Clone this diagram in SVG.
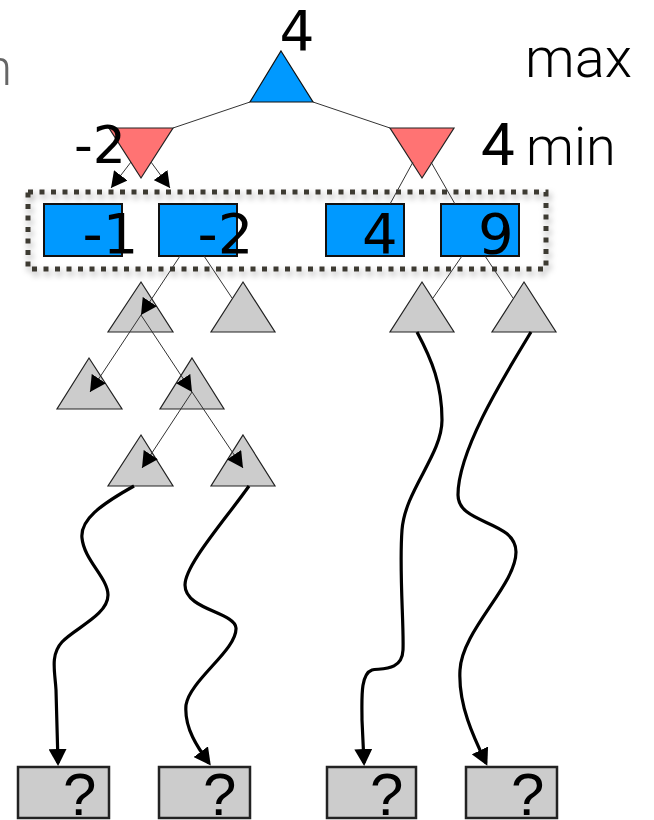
<svg xmlns="http://www.w3.org/2000/svg" width="654" height="820" viewBox="0 0 654 820">
  <style>
    .tri-max { fill: #0099FF; stroke: #111; stroke-width: 1.2; }
    .tri-min { fill: #FF7373; stroke: #222; stroke-width: 1.2; }
    .tri-sub { fill: #CCCCCC; stroke: #222; stroke-width: 1.2; }
    .leaf { fill: #0099FF; stroke: #111; stroke-width: 2; }
    .unknown { fill: #CCCCCC; stroke: #222; stroke-width: 2.5; }
    .num { font-family: "DejaVu Sans", sans-serif; fill: #000; }
    .lbl { font-family: Roboto, "Liberation Sans", Arial, sans-serif; font-weight: 300; fill: #000; }
    .qm { font-family: "Liberation Sans", Arial, sans-serif; fill: #000; }
    .edge { fill: none; stroke: #333; stroke-width: 1; }
    .path { fill: none; stroke: #000; stroke-width: 3.2; }
    .frontier { fill: none; stroke: #3d3a33; stroke-width: 5; stroke-dasharray: 5 6.5; }
  </style>
  <defs>
    <marker id="arrow" markerUnits="userSpaceOnUse" markerWidth="16" markerHeight="17" refX="16" refY="8.5" orient="auto">
      <path d="M0,0 L16,8.5 L0,17 z" fill="#000"/>
    </marker>
    <marker id="arrow-thick" markerUnits="userSpaceOnUse" markerWidth="17" markerHeight="18" refX="14" refY="9" orient="auto">
      <path d="M0,0 L17,9 L0,18 z" fill="#000"/>
    </marker>
    <filter id="shadow" x="-5%" y="-20%" width="110%" height="140%">
      <feDropShadow dx="2" dy="4" stdDeviation="3" flood-color="#000" flood-opacity="0.35"/>
    </filter>
  </defs>

  <!-- level labels -->
  <g id="labels">
    <text class="lbl" x="12" y="85" font-size="50" text-anchor="end" style="fill:#666">n</text>
    <text class="lbl" x="525" y="77" font-size="56">max</text>
    <text class="lbl" x="481" y="165" font-size="60" font-weight="400" style="font-weight:400">4</text>
    <text class="lbl" x="526" y="165" font-size="54">min</text>
  </g>

  <!-- frontier selection box -->
  <g id="frontier">
    <rect class="frontier" x="28" y="192" width="518" height="77" filter="url(#shadow)"/>
  </g>

  <!-- root (max) -->
  <g id="root">
    <polygon class="tri-max" points="281,51 313,102 250,102"/>
    <text class="num" x="297" y="50" font-size="55" text-anchor="middle">4</text>
  </g>

  <!-- min nodes -->
  <g id="min-left">
    <polygon class="tri-min" points="109,128 173,128 141,178"/>
    <text class="num" x="74" y="163" font-size="52">-2</text>
  </g>
  <g id="min-right">
    <polygon class="tri-min" points="390,128 454,128 422,178"/>
  </g>

  <!-- evaluated leaves -->
  <g id="leaf-1">
    <rect class="leaf" x="44" y="204" width="78" height="52"/>
    <text class="num" x="82.5" y="253" font-size="56">-1</text>
  </g>
  <g id="leaf-2">
    <rect class="leaf" x="159" y="204" width="78" height="52"/>
    <text class="num" x="197.5" y="253" font-size="56">-2</text>
  </g>
  <g id="leaf-3">
    <rect class="leaf" x="326" y="204" width="78" height="52"/>
    <text class="num" x="362" y="253" font-size="56">4</text>
  </g>
  <g id="leaf-4">
    <rect class="leaf" x="441" y="204" width="78" height="52"/>
    <text class="num" x="478" y="253" font-size="56">9</text>
  </g>

  <!-- subtrees -->
  <g id="sub-a"><polygon class="tri-sub" points="141,282 173,332 108,332"/></g>
  <g id="sub-b"><polygon class="tri-sub" points="243,282 275,332 211,332"/></g>
  <g id="sub-c"><polygon class="tri-sub" points="89,358 122,409 57,409"/></g>
  <g id="sub-d"><polygon class="tri-sub" points="192,358 224,409 160,409"/></g>
  <g id="sub-e"><polygon class="tri-sub" points="141,435 173,486 108,486"/></g>
  <g id="sub-f"><polygon class="tri-sub" points="243,435 275,486 211,486"/></g>
  <g id="sub-g"><polygon class="tri-sub" points="422,282 454,332 390,332"/></g>
  <g id="sub-h"><polygon class="tri-sub" points="524,282 556,332 492,332"/></g>

  <!-- unknown outcomes -->
  <g id="unknown-1">
    <rect class="unknown" x="18" y="767" width="91" height="51"/>
    <text class="qm" x="63" y="815" font-size="60">?</text>
  </g>
  <g id="unknown-2">
    <rect class="unknown" x="159" y="767" width="91" height="51"/>
    <text class="qm" x="203" y="815" font-size="60">?</text>
  </g>
  <g id="unknown-3">
    <rect class="unknown" x="327" y="767" width="89" height="51"/>
    <text class="qm" x="370" y="815" font-size="60">?</text>
  </g>
  <g id="unknown-4">
    <rect class="unknown" x="466" y="767" width="91" height="51"/>
    <text class="qm" x="511" y="815" font-size="60">?</text>
  </g>

  <!-- connectors -->
  <g id="connectors">
    <line class="edge" x1="250" y1="102" x2="173" y2="128"/>
    <line class="edge" x1="313" y1="102" x2="390" y2="128"/>
    <line class="edge" x1="131" y1="162" x2="111" y2="188" marker-end="url(#arrow)"/>
    <line class="edge" x1="151" y1="162" x2="170" y2="188" marker-end="url(#arrow)"/>
    <line class="edge" x1="413" y1="162" x2="390" y2="204"/>
    <line class="edge" x1="431" y1="162" x2="455" y2="204"/>
    <line class="edge" x1="180" y1="256" x2="141" y2="315" marker-end="url(#arrow)"/>
    <line class="edge" x1="204" y1="256" x2="232" y2="298"/>
    <line class="edge" x1="462" y1="256" x2="433" y2="298"/>
    <line class="edge" x1="485" y1="256" x2="513" y2="298"/>
    <line class="edge" x1="141" y1="315" x2="90" y2="392" marker-end="url(#arrow)"/>
    <line class="edge" x1="141" y1="315" x2="192" y2="392" marker-end="url(#arrow)"/>
    <line class="edge" x1="192" y1="392" x2="142" y2="468" marker-end="url(#arrow)"/>
    <line class="edge" x1="192" y1="392" x2="243" y2="468" marker-end="url(#arrow)"/>

    <path class="path" marker-end="url(#arrow-thick)" d="M134,486 C100,505 80,520 82,538 C84,560 108,578 108,595 C108,615 75,628 62,642 C50,655 55,672 56,690 L58,763"/>
    <path class="path" marker-end="url(#arrow-thick)" d="M249,486 C225,520 185,565 185,585 C185,610 235,612 236,628 C237,650 190,680 186,705 C184,728 198,748 209,763"/>
    <path class="path" marker-end="url(#arrow-thick)" d="M417,332 C432,360 442,385 442,420 C442,455 405,490 402,530 C399,570 404,625 403,650 C402,672 380,668 372,670 C360,674 362,700 362,720 L364,763"/>
    <path class="path" marker-end="url(#arrow-thick)" d="M531,332 C505,375 458,450 458,495 C458,525 516,520 516,552 C516,585 462,630 460,670 C458,705 474,738 486,763"/>
  </g>
</svg>
